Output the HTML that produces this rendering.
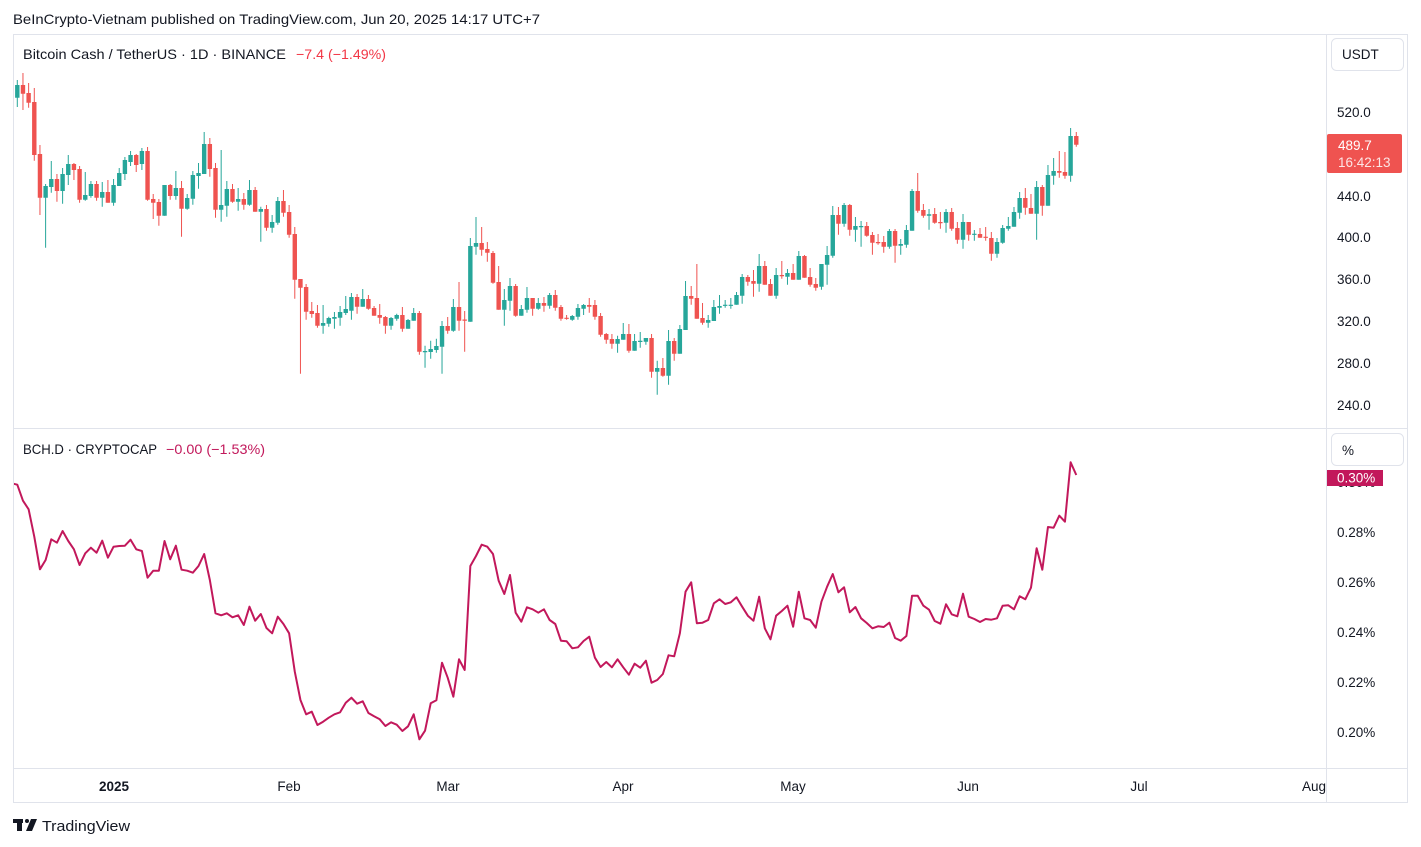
<!DOCTYPE html>
<html><head><meta charset="utf-8"><style>
html,body{margin:0;padding:0;background:#fff;}
svg{display:block;font-family:"Liberation Sans",sans-serif;}
</style></head><body>
<svg width="1421" height="847" viewBox="0 0 1421 847" xmlns="http://www.w3.org/2000/svg">
<rect width="1421" height="847" fill="#fff"/>
<text x="13" y="24" font-size="14" fill="#131722" textLength="527" lengthAdjust="spacingAndGlyphs">BeInCrypto-Vietnam published on TradingView.com, Jun 20, 2025 14:17 UTC+7</text>
<!-- frame -->
<rect x="13.5" y="34.5" width="1394" height="768" fill="none" stroke="#e0e3eb"/>
<line x1="1326.5" y1="34" x2="1326.5" y2="803" stroke="#e0e3eb"/>
<line x1="13" y1="428.5" x2="1407" y2="428.5" stroke="#e0e3eb"/>
<line x1="13" y1="768.5" x2="1407" y2="768.5" stroke="#e0e3eb"/>
<defs>
<clipPath id="c1"><rect x="14" y="35" width="1312" height="393"/></clipPath>
<clipPath id="c2"><rect x="14" y="429" width="1312" height="339"/></clipPath>
</defs>
<!-- candles -->
<g clip-path="url(#c1)">
<g transform="translate(5.974,0) scale(5.663,1)" fill="none">
<path stroke="#26a69a" stroke-width="1" vector-effect="non-scaling-stroke" d="M2 80V107M7 184V247.7M8 161V192.7M10 168V203.7M11 155V185M14 172V200.7M15 181V197.7M17 182V206.7M19 179V205.7M20 168V186M21 157V180M22 151V166M24 148V170M28 185V215.7M30 171V199.7M32 194V209.7M33 171V204.7M34 163V188.7M35 132V174M38 150V221.7M39 181V216.7M41 188V210.7M43 180V205.7M45 206.7V241.7M47 215V232.7M48 197V224.7M56 305V333.7M57 316.7V326.7M58 312V328.7M59 306V325.7M60 296V315M61 293V319.7M63 289V306.7M68 317V329.7M69 313.7V320.7M71 319V328.7M72 308V320.7M74 345.7V367.7M75 340.7V358.7M76 338.7V352.7M77 321V373.7M79 299V331.7M82 238V321.7M83 217V254.7M88 289V325.7M89 278V310.7M91 305V315.7M92 287V312.7M94 298V309.7M96 293V308.7M100 315V320.7M101 304V319.7M102 304V315M108 335.7V352.7M109 323V339.7M111 334V350.7M112 332V347.7M113 338V344.7M115 360.7V394.7M117 330V384.7M119 325V353.7M120 281V330M124 315V327.7M125 300V321M126 295V313.7M127 300V307.7M128 298V308.7M129 292V304.7M130 274V303.7M133 254V291.7M136 268V298.7M138 269V284.7M140 251V279.7M144 264V289.7M145 246V284.7M146 206V257.7M148 203V226.7M150 217V241.7M151 221V246.7M156 229V248.7M158 239V254.7M159 225V247.7M160 189V230.7M163 209V229.7M166 209V232.7M169 214V248.7M171 230V240.7M175 238V257.7M176 225V243.7M177 217V230.7M178 207V226.7M179 192V218.7M182 181V239.7M184 165V205.7M185 158V184.7M188 128V181.7"/>
<path stroke="#26a69a" stroke-width="4.4" vector-effect="non-scaling-stroke" d="M2 85V97.7M7 186V197.7M8 179V187M10 174V191M11 164V175M14 195V199.7M15 184V196M17 192V197.7M19 185V202.7M20 173V186M21 160V174M22 155V162M24 151V164M28 185V215.7M30 188V196M32 198V208.7M33 175V198.7M34 173V176M35 144V174M38 205V209.7M39 189V205.7M41 199V201.7M43 190V204.7M45 209V211.7M47 222V227.7M48 201V222.7M56 323V325.7M57 318V323.7M58 317V318.7M59 312V317.7M60 309V313M61 297V310.7M63 299V306.7M68 318V325.7M69 315V318.7M71 320V328.7M72 313V320.7M74 351V352.2M75 349V352M76 346V350M77 326V346.7M79 307V330.7M82 246V321.7M83 243V246.7M88 300V309.7M89 286V300.7M91 309V315.7M92 298V309.7M94 303V308.7M96 295V305.7M100 316V319.7M101 308V316.7M102 305V308.7M108 339V343.7M109 334V339.7M111 341V350.7M112 340.8V342M113 338V341.7M115 368V371.7M117 341V375.7M119 329V353.7M120 296V330M124 320V322.7M125 307V321M126 306V307.7M127 304.7V305.9M128 304.7V305.9M129 295V304.7M130 277V295.7M133 266V283.7M136 275V295.7M138 273V276.7M140 256V279.7M144 264V286.7M145 255V264.7M146 215V255.7M148 205V223.7M150 226V229.7M151 226V227.2M156 231V246.7M158 244V245.7M159 230V244.7M160 191V230.7M163 214.3V215.7M166 212V222.7M169 222V239.7M171 233.7V234.9M175 242V253.7M176 228V242.7M177 226V228.7M178 212V226.7M179 198V212.7M182 187V213.7M184 175V205.7M185 171V175.7M188 136V175.7"/>
<path stroke="#ef5350" stroke-width="1" vector-effect="non-scaling-stroke" d="M1 86V101M3 73V110M4 83V107.7M5 88V160.7M6 145V215M9 174V201.7M12 163V180M13 166V202.7M16 181V200.7M18 180V202.7M23 154V172M25 147V200.7M26 194V219M27 199V225.7M29 184V199.7M31 181V236.7M36 138V176.7M37 163V217.7M40 184V202.7M42 193V209.7M44 187V211.7M46 205V230.7M49 190V216.7M50 205V237.7M51 227V298.7M52 279V373.7M53 284V319.7M54 302V317.7M55 305V327.7M62 294V313.7M64 295V309.7M65 306V315.7M66 304V323.7M67 316V333.7M70 307V331.7M73 311V354.7M78 317V333.7M80 282V330.7M81 311V351.7M84 227V255.7M85 242V261.7M86 251V283.7M87 266V309.7M90 284V316.7M93 298V315.7M95 297V311.7M97 290V310.7M98 305V320.7M99 315V319.7M103 298V312.7M104 300V319.7M105 313V336.7M106 333V343.7M107 334V348.7M110 324V352.7M114 334V377.7M116 358V376.7M118 338V360.7M121 286V304.7M122 264V318.7M123 303V324.7M131 275V285.7M132 270V296.7M134 261V284.7M135 279V295.7M137 261V278.7M139 264V279.7M141 255V277.7M142 268V286.7M143 278V290.7M147 207V234.7M149 204V235.7M152 222V236.7M153 232V254.7M154 234V244.7M155 236V252.7M157 229V262.7M161 173V212.7M162 204V217.7M164 208V223.7M165 212V228.7M167 208V230.7M168 222V243.7M170 222V240.7M172 228V237.7M173 227V240.7M174 232V260.7M180 188V214.7M181 194V213.7M183 185V215.7M186 151V177.7M187 152V178.7M189 132V146.7"/>
<path stroke="#ef5350" stroke-width="4.4" vector-effect="non-scaling-stroke" d="M1 89V99M3 85V93.7M4 93V102.7M5 102V155M6 154V197.7M9 179V191M12 164V170M13 169V199.7M16 184V197.7M18 192V202.7M23 155V165M25 151V199.7M26 199V202.7M27 202V215.7M29 185V196M31 188V208.7M36 144V169M37 168V209.7M40 189V201.7M42 199V204.7M44 190V211.7M46 209V227.7M49 201V212.7M50 212V234.7M51 234V279.7M52 279V287.7M53 287V311.7M54 311V314M55 313V325.7M62 297V306.7M64 299V308.7M65 308V315.7M66 315V317.7M67 317V325.7M70 315V328.7M73 313V351.7M78 326V330.7M80 307V320.7M81 319.5V320.7M84 243V249.7M85 249V252.7M86 253V282.7M87 282V309.7M90 286V315.7M93 298V308.7M95 303V305.7M97 295V307.7M98 307V318.7M99 317.7V318.9M103 305V306.7M104 305V316.7M105 316V334.7M106 334V339.7M107 339V343.7M110 334V350.7M114 338V371.7M116 368V375.7M118 341V353.7M121 296V298.7M122 298V318.7M123 318V322.7M131 277V281.7M132 281V283.7M134 266V284.7M135 284V295.7M137 275V276.2M139 273V279.7M141 256V277.7M142 277V284.7M143 284V287.7M147 215V223.7M149 205V229.7M152 226V235.7M153 235V242.7M154 242V243.2M155 242V246.7M157 231V245.7M161 191V210.7M162 210V215.7M164 214V222.7M165 222V223.2M167 212V228.7M168 228V239.7M170 222V234.7M172 234V237.7M173 236.7V237.9M174 238V253.7M180 198V207.7M181 208V213.7M183 187V205.7M186 171V172.7M187 172V175.7M189 136V144.7"/>
</g>
</g>
<!-- BCH.D line -->
<g clip-path="url(#c2)">
<g transform="translate(5.974,0) scale(5.663,1)">
<polyline fill="none" stroke="#c2185b" stroke-width="2" stroke-linejoin="round" vector-effect="non-scaling-stroke" points="1,483.3 2,484.7 3,500.7 4,509.3 5,536.7 6,569.3 7,560 8,539.3 9,542.7 10,531 11,541 12,549.3 13,565 14,553.3 15,547.7 16,552.7 17,540.7 18,557.7 19,546.7 20,546 21,545.7 22,539.7 23,549.3 24,551 25,577.7 26,570.7 27,570.7 28,541 29,559.3 30,545.7 31,569.7 32,570.7 33,572.7 34,566 35,554 36,580 37,613.3 38,615.3 39,613.3 40,617.3 41,615.3 42,625 43,606.7 44,620.7 45,614 46,628 47,633.3 48,616.7 49,624 50,633.3 51,671.7 52,700 53,714.3 54,711.7 55,725 56,721.7 57,717.7 58,714.3 59,712.3 60,702.7 61,697.7 62,703.7 63,701.3 64,713 65,716.3 66,719.3 67,726 68,722.3 69,724.7 70,731 71,726.3 72,714.3 73,739.3 74,730.7 75,703.3 76,700.3 77,662.7 78,677.7 79,696.7 80,659.3 81,670 82,566 83,556 84,544.7 85,546.7 86,554 87,580.7 88,594 89,575 90,612.7 91,621.7 92,607.3 93,609.3 94,612.7 95,609.3 96,620 97,624 98,640.7 99,641.3 100,648.3 101,647.3 102,641 103,636.7 104,657.7 105,667 106,662 107,667.3 108,659.3 109,667.3 110,674.7 111,663.7 112,667.7 113,660.7 114,682.7 115,680 116,674 117,655.3 118,656.3 119,633.3 120,591.7 121,582.3 122,623.3 123,622.7 124,620 125,603.3 126,599.3 127,604 128,602.3 129,597.3 130,606.7 131,615.7 132,620.7 133,596.7 134,628.3 135,639.3 136,615.7 137,611 138,605.7 139,626.7 140,591.7 141,618.3 142,620 143,627.7 144,601.7 145,586.7 146,574 147,592.3 148,587.3 149,612.3 150,607 151,618.3 152,623 153,628.3 154,626.3 155,627 156,622.7 157,638 158,640.7 159,636 160,595.7 161,595.7 162,605.7 163,609.7 164,621 165,623.7 166,604.3 167,614.3 168,616.3 169,593.7 170,616.7 171,619 172,622 173,619 174,619.7 175,618.3 176,605.7 177,605.3 178,609.3 179,596.3 180,599.3 181,587.7 182,548.3 183,569.7 184,527 185,527.7 186,515.7 187,521.7 188,462.3 189,475"/>
</g>
</g>
<!-- legends -->
<text x="23" y="59" font-size="14" fill="#131722" textLength="263" lengthAdjust="spacingAndGlyphs">Bitcoin Cash / TetherUS · 1D · BINANCE</text>
<text x="296" y="59" font-size="14" fill="#f23645" textLength="90" lengthAdjust="spacingAndGlyphs">−7.4 (−1.49%)</text>
<text x="23" y="454" font-size="14" fill="#131722" textLength="134" lengthAdjust="spacingAndGlyphs">BCH.D · CRYPTOCAP</text>
<text x="166" y="454" font-size="14" fill="#c2185b" textLength="99" lengthAdjust="spacingAndGlyphs">−0.00 (−1.53%)</text>
<!-- price axis -->
<rect x="1331.5" y="38.5" width="72" height="32" rx="5" fill="#fff" stroke="#e0e3eb"/>
<text x="1342" y="59" font-size="13.5" fill="#131722">USDT</text>
<g font-size="13.5" fill="#131722">
<text x="1337" y="117">520.0</text>
<text x="1337" y="201">440.0</text>
<text x="1337" y="242">400.0</text>
<text x="1337" y="284">360.0</text>
<text x="1337" y="326">320.0</text>
<text x="1337" y="368">280.0</text>
<text x="1337" y="410">240.0</text>
</g>
<rect x="1327" y="134" width="75" height="39" rx="2" fill="#ef5350"/>
<text x="1338" y="150" font-size="13.5" fill="#fff">489.7</text>
<text x="1338" y="167" font-size="13.5" fill="#fff" fill-opacity="0.85">16:42:13</text>
<!-- lower axis -->
<rect x="1331.5" y="433.5" width="72" height="32" rx="5" fill="#fff" stroke="#e0e3eb"/>
<text x="1342" y="455" font-size="13.5" fill="#131722">%</text>
<g font-size="13.5" fill="#131722">
<text x="1337" y="487">0.30%</text>
<text x="1337" y="537">0.28%</text>
<text x="1337" y="587">0.26%</text>
<text x="1337" y="637">0.24%</text>
<text x="1337" y="687">0.22%</text>
<text x="1337" y="737">0.20%</text>
</g>
<rect x="1327" y="470" width="56" height="16" fill="#c2185b"/>
<text x="1337" y="482.5" font-size="13.5" fill="#fff">0.30%</text>
<!-- time axis -->
<g font-size="13.5" fill="#131722" text-anchor="middle">
<text x="114" y="791" font-weight="bold">2025</text>
<text x="289" y="791">Feb</text>
<text x="448" y="791">Mar</text>
<text x="623" y="791">Apr</text>
<text x="793" y="791">May</text>
<text x="968" y="791">Jun</text>
<text x="1139" y="791">Jul</text>
<text x="1314" y="791">Aug</text>
</g>
<!-- logo -->
<g fill="#131722">
<rect x="13" y="819" width="10" height="4"/>
<rect x="17" y="819" width="5" height="12"/>
<circle cx="27" cy="821" r="2"/>
<polygon points="31,819 37,819 32,831 26,831"/>
</g>
<text x="42" y="831" font-size="15" fill="#131722" textLength="88" lengthAdjust="spacingAndGlyphs">TradingView</text>
</svg>
</body></html>
